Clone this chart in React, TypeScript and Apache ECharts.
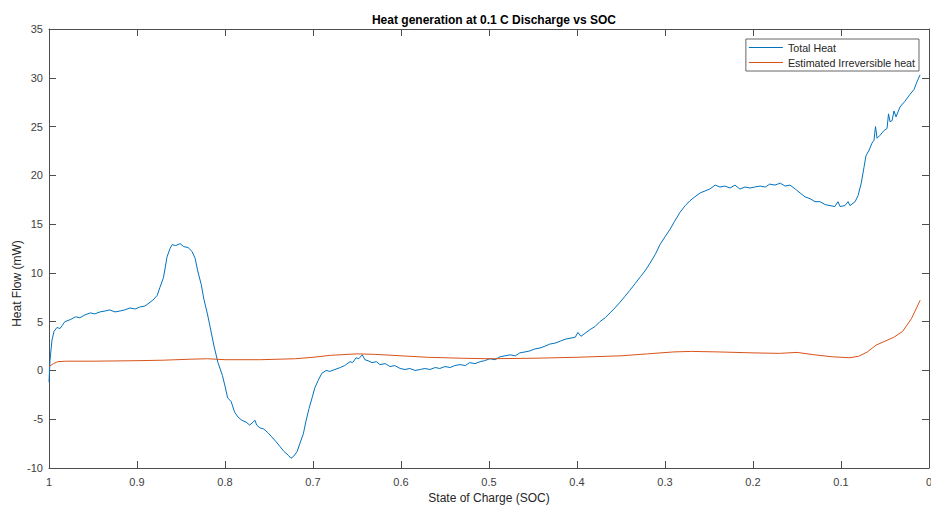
import React, { useEffect, useRef } from "react";
import * as echarts from "echarts";

const TITLE = "Heat generation at 0.1 C Discharge vs SOC";
const X_NAME = "State of Charge (SOC)";
const Y_NAME = "Heat Flow (mW)";
const SERIES_NAMES = ["Total Heat", "Estimated Irreversible heat"];

// Total heat (SOC, mW)
const totalSoc = [
  1.0, 0.9989, 0.9966, 0.9943, 0.991, 0.9875, 0.985, 0.982, 0.976, 0.97, 0.965, 0.959, 0.953, 0.948, 0.942,
  0.936, 0.931, 0.925, 0.919, 0.914, 0.908, 0.902, 0.897, 0.891, 0.885, 0.882, 0.877, 0.874, 0.87, 0.868,
  0.866, 0.8625, 0.86, 0.856, 0.851, 0.847, 0.842, 0.8375, 0.834, 0.831, 0.827, 0.824, 0.82, 0.817, 0.8125,
  0.808, 0.803, 0.8, 0.797, 0.793, 0.789, 0.785, 0.781, 0.776, 0.772, 0.768, 0.766, 0.764, 0.76, 0.756,
  0.751, 0.747, 0.742, 0.7375, 0.733, 0.728, 0.725, 0.722, 0.718, 0.715, 0.711, 0.708, 0.7045, 0.701, 0.698,
  0.694, 0.69, 0.685, 0.681, 0.675, 0.669, 0.664, 0.658, 0.655, 0.651, 0.648, 0.644, 0.641, 0.6375, 0.633,
  0.628, 0.624, 0.618, 0.6125, 0.607, 0.601, 0.5955, 0.59, 0.584, 0.578, 0.573, 0.567, 0.561, 0.556, 0.55,
  0.544, 0.539, 0.533, 0.527, 0.522, 0.516, 0.51, 0.505, 0.499, 0.493, 0.4875, 0.482, 0.476, 0.47, 0.465,
  0.459, 0.4535, 0.448, 0.442, 0.436, 0.431, 0.425, 0.419, 0.4135, 0.408, 0.402, 0.399, 0.3955, 0.391, 0.385,
  0.3795, 0.374, 0.368, 0.3625, 0.357, 0.351, 0.3455, 0.34, 0.334, 0.328, 0.3227, 0.317, 0.311, 0.3057, 0.3,
  0.294, 0.289, 0.283, 0.277, 0.2716, 0.266, 0.26, 0.2545, 0.249, 0.243, 0.2375, 0.232, 0.226, 0.2205, 0.215,
  0.209, 0.2034, 0.198, 0.192, 0.186, 0.181, 0.175, 0.169, 0.1636, 0.158, 0.152, 0.1466, 0.141, 0.135, 0.1295,
  0.124, 0.118, 0.1125, 0.107, 0.1034, 0.101, 0.0955, 0.092, 0.0898, 0.084, 0.0807, 0.077, 0.0739, 0.0716, 0.068,
  0.0648, 0.0625, 0.0608, 0.059, 0.0557, 0.051, 0.0477, 0.046, 0.0443, 0.042, 0.0398, 0.0375, 0.033, 0.0273, 0.0216,
  0.017, 0.0136, 0.0102,
];
const totalHeat = [
  -1.2, 1.0, 3.1, 4.0, 4.4, 4.3, 4.6, 5.0, 5.2, 5.5, 5.4, 5.7, 5.9, 5.8, 6.0,
  6.1, 6.2, 6.0, 6.1, 6.2, 6.4, 6.3, 6.5, 6.6, 7.0, 7.2, 7.7, 8.5, 9.5, 10.5,
  11.6, 12.5, 12.9, 12.8, 13.0, 12.7, 12.6, 12.2, 11.5, 10.2, 8.8, 7.3, 5.8, 4.5, 2.5,
  0.8, -0.5, -1.6, -2.8, -3.2, -4.3, -4.8, -5.1, -5.3, -5.6, -5.3, -5.1, -5.6, -5.9, -6.0,
  -6.4, -6.8, -7.3, -7.8, -8.3, -8.7, -9.0, -8.8, -8.3, -7.5, -6.5, -5.2, -3.9, -2.8, -1.8,
  -1.0, -0.3, 0.0, -0.1, 0.1, 0.3, 0.5, 0.9, 0.8, 1.3, 1.2, 1.6, 1.1, 1.0, 0.8,
  0.9, 0.6, 0.7, 0.4, 0.5, 0.2, 0.1, 0.2, 0.0, 0.1, 0.2, 0.1, 0.3, 0.2, 0.4,
  0.3, 0.5, 0.6, 0.5, 0.8, 0.7, 0.9, 1.0, 1.2, 1.1, 1.4, 1.5, 1.6, 1.5, 1.8,
  1.9, 2.0, 2.2, 2.3, 2.5, 2.7, 2.8, 3.0, 3.2, 3.3, 3.4, 3.9, 3.5, 3.8, 4.2,
  4.5, 5.0, 5.4, 5.9, 6.4, 7.0, 7.6, 8.2, 8.9, 9.6, 10.2, 11.0, 11.9, 12.9, 13.7,
  14.5, 15.3, 16.2, 16.9, 17.4, 17.8, 18.2, 18.4, 18.6, 19.0, 18.8, 18.9, 18.7, 19.0, 18.6,
  18.8, 18.7, 18.8, 18.9, 18.8, 19.1, 19.0, 19.2, 18.9, 19.0, 18.6, 18.2, 17.8, 17.6, 17.3,
  17.3, 17.0, 16.9, 16.8, 17.3, 16.8, 16.9, 17.3, 16.9, 17.3, 17.9, 19.2, 20.8, 22.0, 22.6,
  23.3, 23.6, 25.0, 23.8, 24.1, 24.6, 24.8, 26.3, 25.5, 25.6, 26.6, 26.0, 27.0, 27.6, 28.3,
  28.8, 29.6, 30.3,
];

// Estimated irreversible heat (SOC, mW)
const irrSoc = [
  1.0, 0.995, 0.99, 0.98, 0.95, 0.9, 0.87, 0.84, 0.82, 0.8, 0.76, 0.72, 0.7, 0.68, 0.65,
  0.63, 0.6, 0.57, 0.53, 0.5, 0.45, 0.4, 0.35, 0.32, 0.29, 0.27, 0.24, 0.2, 0.17, 0.15,
  0.13, 0.11, 0.09, 0.08, 0.07, 0.06, 0.05, 0.04, 0.03, 0.02, 0.01,
];
const irrHeat = [
  0.4, 0.7, 0.9, 0.95, 0.95, 1.0, 1.05, 1.15, 1.2, 1.1, 1.1, 1.2, 1.35, 1.55, 1.7,
  1.65, 1.5, 1.35, 1.25, 1.2, 1.25, 1.35, 1.5, 1.7, 1.9, 1.95, 1.9, 1.8, 1.75, 1.85,
  1.6, 1.4, 1.3, 1.45, 1.9, 2.6, 3.0, 3.4, 4.0, 5.3, 7.2,
];

const AXIS_COLOR = "#4d4d4d";
const FONT = "Liberation Sans, Arial, sans-serif";

export default function App() {
  const ref = useRef<HTMLDivElement>(null);
  useEffect(() => {
    if (!ref.current) return;
    const chart = echarts.init(ref.current, undefined, { renderer: "svg" });
    const fmt = (v: number) => String(Math.round(v * 10) / 10);
    const baseX = {
      type: "value" as const,
      min: 0,
      max: 1,
      interval: 0.1,
      inverse: true,
      splitLine: { show: false },
      axisLine: { show: true, onZero: false, lineStyle: { color: AXIS_COLOR, width: 1 } },
      axisTick: { show: true, inside: true, length: 7, lineStyle: { color: AXIS_COLOR } },
    };
    const baseY = {
      type: "value" as const,
      min: -10,
      max: 35,
      interval: 5,
      splitLine: { show: false },
      axisLine: { show: true, onZero: false, lineStyle: { color: AXIS_COLOR, width: 1 } },
      axisTick: { show: true, inside: true, length: 7, lineStyle: { color: AXIS_COLOR } },
    };
    chart.setOption({
      animation: false,
      backgroundColor: "#ffffff",
      textStyle: { fontFamily: FONT },
      title: {
        text: TITLE,
        left: 489,
        top: 9,
        textAlign: "center",
        textStyle: { fontSize: 12, fontWeight: "bold", color: "#000000", fontFamily: FONT },
      },
      grid: { left: 49, right: 2, top: 29, bottom: 40, containLabel: false, outerBoundsMode: "none" },
      legend: {
        data: SERIES_NAMES.map((n) => ({ name: n, icon: "rect" })),
        orient: "vertical",
        right: 12,
        top: 39,
        itemWidth: 34,
        itemHeight: 1,
        itemGap: 2,
        padding: [2, 4, 2, 3],
        backgroundColor: "#ffffff",
        borderColor: "#666666",
        borderWidth: 1,
        borderRadius: 0,
        textStyle: { fontSize: 10.7, lineHeight: 13, color: "#262626", fontFamily: FONT },
      },
      xAxis: [
        {
          ...baseX,
          position: "bottom",
          name: X_NAME,
          nameLocation: "middle",
          nameGap: 24,
          nameMoveOverlap: false,
          nameTextStyle: { fontSize: 12, color: "#262626", fontFamily: FONT },
          axisLabel: { show: true, margin: 8, fontSize: 11, color: "#404040", formatter: fmt, fontFamily: FONT },
        },
        {
          ...baseX,
          position: "top",
          axisLabel: { show: false },
        },
      ],
      yAxis: [
        {
          ...baseY,
          position: "left",
          name: Y_NAME,
          nameLocation: "middle",
          nameGap: 26,
          nameMoveOverlap: false,
          nameTextStyle: { fontSize: 12, color: "#262626", fontFamily: FONT, padding: [0, 70, 0, 0] },
          axisLabel: { show: true, margin: 6, fontSize: 11, color: "#404040", fontFamily: FONT },
        },
        {
          ...baseY,
          position: "right",
          axisLabel: { show: false },
        },
      ],
      series: [
        {
          name: SERIES_NAMES[0],
          type: "line",
          xAxisIndex: 0,
          yAxisIndex: 0,
          symbol: "none",
          showSymbol: false,
          lineStyle: { color: "#0072BD", width: 1 },
          itemStyle: { color: "#0072BD" },
          data: totalSoc.map((s, i) => [s, totalHeat[i]]),
        },
        {
          name: SERIES_NAMES[1],
          type: "line",
          xAxisIndex: 0,
          yAxisIndex: 0,
          symbol: "none",
          showSymbol: false,
          lineStyle: { color: "#D95319", width: 1 },
          itemStyle: { color: "#D95319" },
          data: irrSoc.map((s, i) => [s, irrHeat[i]]),
        },
      ],
    });
    return () => chart.dispose();
  }, []);
  return <div ref={ref} style={{ width: 931, height: 508, position: "absolute", left: 0, top: 0 }} />;
}
